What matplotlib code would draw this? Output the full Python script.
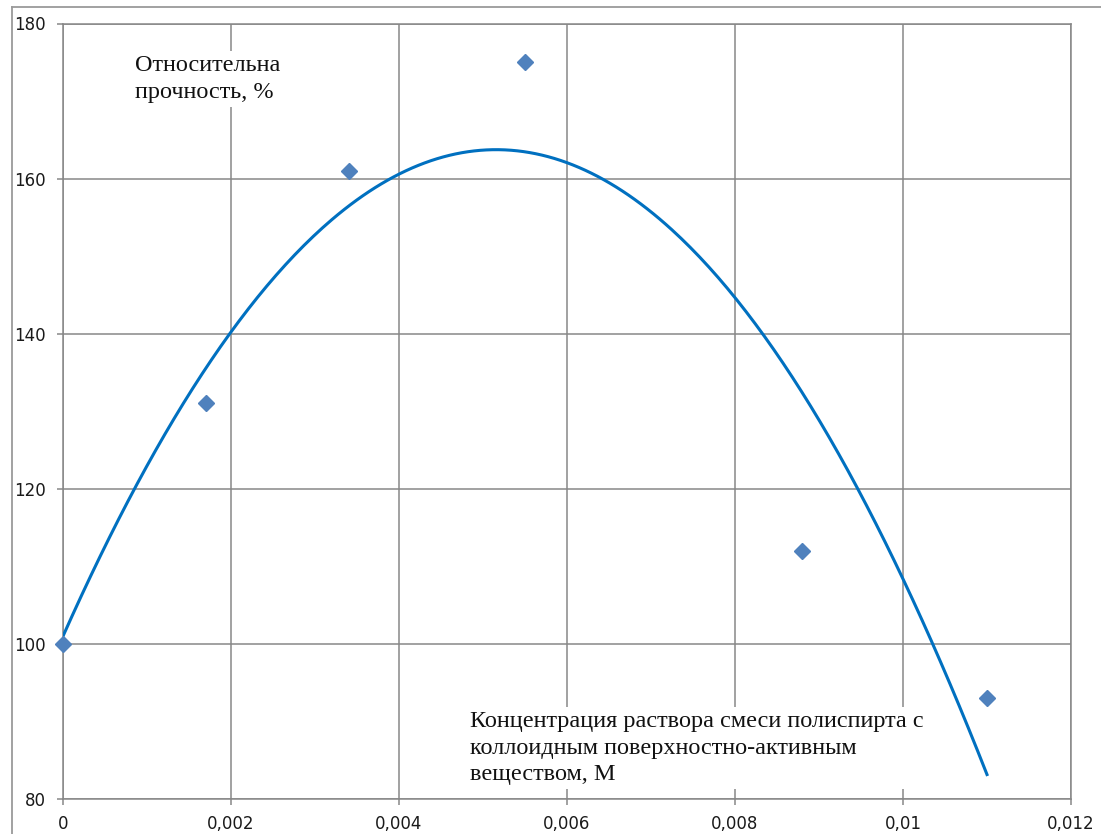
import matplotlib
matplotlib.use('Agg')
import matplotlib.pyplot as plt
from matplotlib.lines import Line2D
import numpy as np

# measured points: concentration (M) vs relative strength (%)
conc = [0.0, 0.0017, 0.0034, 0.0055, 0.0088, 0.011]
strength = [100, 131, 161, 175, 112, 93]

x_ticks = [0, 0.002, 0.004, 0.006, 0.008, 0.01, 0.012]
x_tick_labels = ['0', '0,002', '0,004', '0,006', '0,008', '0,01', '0,012']
y_ticks = [80, 100, 120, 140, 160, 180]

grid_col = '#878787'
W, H = 1101, 834

fig = plt.figure(figsize=(W / 100, H / 100), dpi=100)
ax = fig.add_axes([63 / W, 1 - 799 / H, (1071 - 63) / W, (799 - 23.5) / H])

# second order polynomial trendline, like the Excel one
coef = np.polyfit(conc, strength, 2)
xs = np.linspace(conc[0], conc[-1], 300)
ax.plot(xs, np.polyval(coef, xs), color='#0070C0', lw=2.2, zorder=3)

ax.plot(conc, strength, linestyle='none', marker='D', ms=8,
        color='#4F81BD', mec='#4F81BD', zorder=4, clip_on=False)

ax.set_xlim(0, 0.012)
ax.set_ylim(80, 180)
ax.set_xticks(x_ticks)
ax.set_xticklabels(x_tick_labels)
ax.set_yticks(y_ticks)
ax.grid(True, color=grid_col, lw=1.1)
ax.set_axisbelow(True)
for s in ax.spines.values():
    s.set_color(grid_col)
    s.set_linewidth(1.1)
ax.tick_params(direction='out', length=4.5, width=1.1, color=grid_col,
               labelsize=12, labelcolor='#1a1a1a')
ax.tick_params(axis='y', pad=8)
ax.tick_params(axis='x', pad=7)

serif = ['Liberation Serif', 'DejaVu Serif']
box = dict(facecolor='white', edgecolor='none', pad=3)
ax.text(0.00086, 175.9, 'Относительна\nпрочность, %', family=serif,
        fontsize=17.5, va='top', ha='left', color='#111111',
        linespacing=1.33, bbox=box, zorder=5)
ax.text(0.00485, 91.3,
        'Концентрация раствора смеси полиспирта с\n'
        'коллоидным поверхностно-активным\nвеществом, М',
        family=serif, fontsize=17.5, va='top', ha='left', color='#111111',
        linespacing=1.33, bbox=box, zorder=5)

# outer chart frame (only left and top edges fall inside the picture)
fig.add_artist(Line2D([12 / W, 12 / W], [0, 1 - 7 / H],
                      transform=fig.transFigure, color='#9a9a9a', lw=1.3))
fig.add_artist(Line2D([12 / W, 1], [1 - 7 / H, 1 - 7 / H],
                      transform=fig.transFigure, color='#9a9a9a', lw=1.3))

fig.savefig('out.png', dpi=100)
